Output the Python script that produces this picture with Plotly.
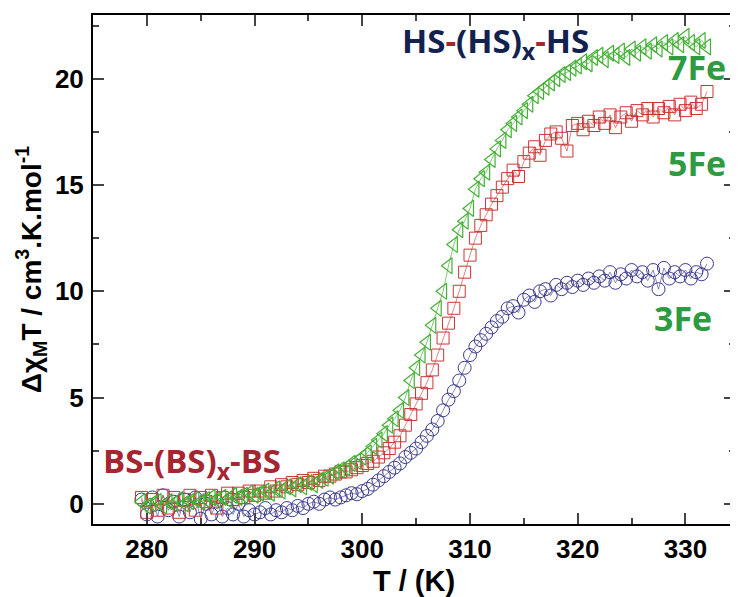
import plotly.graph_objects as go

# Temperature grid (K)
T = [279.5, 280.0, 280.5, 281.0, 281.5, 282.0, 282.5, 283.0, 283.5, 284.0,
     284.5, 285.0, 285.5, 286.0, 286.5, 287.0, 287.5, 288.0, 288.5, 289.0,
     289.5, 290.0, 290.5, 291.0, 291.5, 292.0, 292.5, 293.0, 293.5, 294.0,
     294.5, 295.0, 295.5, 296.0, 296.5, 297.0, 297.5, 298.0, 298.5, 299.0,
     299.5, 300.0, 300.5, 301.0, 301.5, 302.0, 302.5, 303.0, 303.5, 304.0,
     304.5, 305.0, 305.5, 306.0, 306.5, 307.0, 307.5, 308.0, 308.5, 309.0,
     309.5, 310.0, 310.5, 311.0, 311.5, 312.0, 312.5, 313.0, 313.5, 314.0,
     314.5, 315.0, 315.5, 316.0, 316.5, 317.0, 317.5, 318.0, 318.5, 319.0,
     319.5, 320.0, 320.5, 321.0, 321.5, 322.0, 322.5, 323.0, 323.5, 324.0,
     324.5, 325.0, 325.5, 326.0, 326.5, 327.0, 327.5, 328.0, 328.5, 329.0,
     329.5, 330.0, 330.5, 331.0, 331.5, 332.0]

# 3Fe (blue circles)
fe3 = [0.2, -0.5, 0.3, -0.6, 0.4, -0.3, 0.1, -0.6, 0.2, -0.4,
       0.3, -0.7, 0.0, -0.5, 0.1, -0.6, -0.2, -0.5, 0.0, -0.6,
       -0.3, -0.5, -0.4, -0.2, -0.5, -0.3, -0.4, -0.2, -0.3, -0.1,
       -0.2, 0.0, 0.1, 0.0, 0.2, 0.3, 0.2, 0.3, 0.4, 0.5,
       0.45, 0.6, 0.7, 0.9, 1.1, 1.3, 1.5, 1.7, 1.9, 2.2,
       2.4, 2.6, 2.9, 3.2, 3.5, 3.9, 4.4, 4.9, 5.3, 5.8,
       6.4, 7.0, 7.4, 7.7, 8.0, 8.3, 8.6, 8.8, 9.2, 9.3,
       9.0, 9.6, 9.8, 9.5, 10.0, 10.1, 9.8, 10.3, 10.1, 10.4,
       10.2, 10.5, 10.3, 10.6, 10.4, 10.7, 10.5, 10.9, 10.4, 10.8,
       10.6, 11.0, 10.7, 10.9, 10.5, 11.0, 10.1, 11.1, 10.6, 10.9,
       10.7, 11.0, 10.6, 10.9, 10.8, 11.3]

# 5Fe (red squares)
fe5 = [0.3, -0.4, 0.2, -0.3, 0.4, -0.2, 0.3, -0.4, 0.2, 0.4,
       -0.3, 0.3, 0.1, 0.4, -0.2, 0.3, 0.5, 0.2, 0.5, 0.3,
       0.6, 0.4, 0.6, 0.5, 0.8, 0.6, 0.9, 0.8, 1.0, 0.9,
       1.1, 1.0, 1.2, 1.1, 1.3, 1.3, 1.4, 1.5, 1.5, 1.6,
       1.7, 1.8, 1.9, 2.0, 2.2, 2.4, 2.6, 2.9, 3.2, 3.7,
       4.2, 4.7, 5.2, 5.7, 6.3, 7.0, 7.8, 8.5, 9.2, 10.0,
       10.9, 11.7, 12.5, 13.1, 13.6, 14.1, 14.5, 14.9, 15.3, 15.7,
       15.4, 16.1, 16.5, 16.8, 16.4, 17.1, 17.4, 17.5, 17.2, 16.6,
       17.8, 17.9, 17.6, 18.0, 17.8, 18.2, 17.9, 18.3, 17.7, 18.2,
       18.4, 18.0, 18.5, 18.3, 18.6, 18.2, 18.6, 18.4, 18.7, 18.3,
       18.8, 18.5, 18.9, 18.6, 18.8, 19.4]

# 7Fe (green triangles)
fe7 = [0.1, -0.1, 0.0, 0.1, -0.1, 0.1, 0.0, 0.2, 0.0, 0.1,
       0.2, 0.1, 0.2, 0.3, 0.2, 0.3, 0.2, 0.4, 0.3, 0.4,
       0.5, 0.4, 0.5, 0.6, 0.5, 0.7, 0.6, 0.8, 0.7, 0.9,
       0.8, 1.0, 0.9, 1.1, 1.2, 1.3, 1.5, 1.6, 1.7, 1.9,
       2.0, 2.2, 2.4, 2.7, 3.0, 3.3, 3.7, 4.0, 4.4, 5.0,
       5.8, 6.4, 7.0, 7.6, 8.4, 9.2, 10.0, 11.2, 12.2, 12.9,
       13.3, 13.9, 14.8, 15.3, 15.6, 16.2, 16.7, 17.1, 17.6, 17.9,
       18.2, 18.5, 18.8, 19.2, 19.4, 19.6, 19.8, 20.0, 20.2, 20.3,
       20.5, 20.6, 20.8, 20.7, 21.0, 21.1, 20.9, 21.2, 21.1, 21.3,
       21.0, 21.4, 21.2, 21.5, 21.3, 21.6, 21.4, 21.7, 21.5, 21.8,
       21.6, 22.0, 21.7, 21.5, 21.8, 21.5]

x_ticks = [280, 290, 300, 310, 320, 330]
y_ticks = [0, 5, 10, 15, 20]

fig = go.Figure()

fig.add_trace(go.Scatter(
    x=T, y=fe3, mode="lines+markers", name="3Fe",
    line=dict(color="#3a3a8c", width=0.6),
    marker=dict(symbol="circle-open", size=13, color="#3a3a8c", line=dict(width=1))))
fig.add_trace(go.Scatter(
    x=T, y=fe5, mode="lines+markers", name="5Fe",
    line=dict(color="#cc3333", width=0.6),
    marker=dict(symbol="square-open", size=12, color="#cc3333", line=dict(width=1))))
fig.add_trace(go.Scatter(
    x=T, y=fe7, mode="lines+markers", name="7Fe",
    line=dict(color="#44b035", width=0.7),
    marker=dict(symbol="triangle-left-open", size=14, color="#44b035", line=dict(width=1.2))))

tickfont = dict(family="Liberation Sans, Arial", size=26, color="black", weight="bold")
titlefont = dict(family="Liberation Sans, Arial", size=29, color="black", weight="bold")

fig.update_xaxes(
    range=[275, 334.6], tickvals=x_ticks, ticks="inside", ticklen=11, tickwidth=2,
    minor=dict(ticks="inside", ticklen=6, dtick=5, tickwidth=2),
    showline=True, linewidth=2, linecolor="black", mirror="allticks",
    showgrid=False, zeroline=False, tickfont=tickfont, ticklabelstandoff=1,
    automargin=False,
    title=dict(text="T / (K)", font=titlefont, standoff=9))
fig.update_yaxes(
    range=[-0.95, 23.0], tickvals=y_ticks, ticks="inside", ticklen=11, tickwidth=2,
    minor=dict(ticks="inside", ticklen=6, dtick=2.5, tickwidth=2),
    showline=True, linewidth=2, linecolor="black", mirror="allticks",
    showgrid=False, zeroline=False, tickfont=tickfont, ticklabelstandoff=2,
    automargin=False,
    title=dict(text="Δχ<sub>M</sub>T / cm<sup>3</sup>.K.mol<sup>-1</sup>",
               font=dict(family="Liberation Sans, Arial", size=28, color="black",
                         weight="bold"), standoff=5))

navy = "#13214f"
dred = "#a52530"
green = "#2e9a42"
lab_font = "Open Sans"

annotations = [
    dict(x=495, y=42, text=("<span style='color:%s'>HS</span><span style='color:%s'>-</span>"
                            "<span style='color:%s'>(HS)<sub>x</sub></span>"
                            "<span style='color:%s'>-</span><span style='color:%s'>HS</span>")
                           % (navy, dred, navy, dred, navy),
         font=dict(family=lab_font, size=33, weight="bold", color=navy)),
    dict(x=192, y=462, text="BS-(BS)<sub>x</sub>-BS",
         font=dict(family=lab_font, size=33, weight="bold", color=dred)),
    dict(x=697, y=67, text="7Fe", font=dict(family=lab_font, size=34, weight="bold", color=green)),
    dict(x=697, y=163, text="5Fe", font=dict(family=lab_font, size=34, weight="bold", color=green)),
    dict(x=683, y=318, text="3Fe", font=dict(family=lab_font, size=34, weight="bold", color=green)),
]

# page body adds an 8px offset; compensate so the plot area lands at x 93-735, y 15-524
OFF = 8
W, H = 738 - OFF, 597 - OFF
L, R, TOP, B = 93 - OFF, 3, 15 - OFF, 73
fig.update_layout(
    width=W, height=H,
    margin=dict(l=L, r=R, t=TOP, b=B),
    plot_bgcolor="white", paper_bgcolor="white",
    showlegend=False,
)

# convert canvas-pixel label positions to paper coordinates of the plot area
x0, y1 = 93, 524
pw, ph = 735 - 93, 524 - 15
for a in annotations:
    fig.add_annotation(x=(a["x"] - x0) / pw, y=(y1 - a["y"]) / ph,
                       xref="paper", yref="paper", text=a["text"], font=a["font"],
                       showarrow=False, xanchor="center", yanchor="middle")

fig.write_html("out.html")
